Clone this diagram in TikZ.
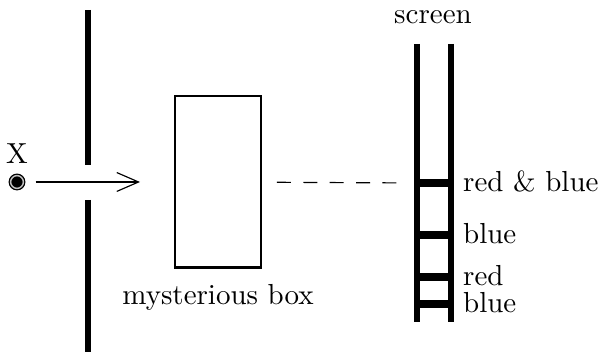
\documentclass[tikz,border=0pt]{standalone}
\usepackage{tikz}
\usetikzlibrary{arrows.meta,positioning}
\tikzset{
    %Define standard arrow tip
    >={Straight Barb[length=7.5pt,width=6.5pt]},
    %Define style for walls and screen
    wall/.style={line width=1.8pt},
    hit/.style={line width=2.8pt},
    %Define style for boxes
    mbox/.style={
           rectangle,
           draw=black, line width=1pt,
           minimum width=29.7pt,
           minimum height=59.3pt},
    source/.style={
           circle,
           fill=black,
           draw=black, line width=0.45pt,
           double=gray!50, double distance=0.5pt,
           inner sep=0pt,
           minimum size=4.4pt},
    tag/.style={anchor=west, inner sep=0pt},
    % Define arrow style
    pil/.style={
           ->,
           thin,
           shorten <=4pt}
}
\begin{document}
\begin{tikzpicture}[x=0.345pt,y=-0.345pt]
\useasboundingbox (0,0) rectangle (600,354);
 %nodes
\node[source](src) at (17,182){};
\node[above=3.6pt of src, inner sep=0pt](x){X};
\coordinate (aim) at (140,182);
\node[mbox](box) at (218,182){};
\node[below=1.8pt of box](boxtag){mysterious box};
 %wall with slit
\coordinate (w1) at (88,10);
\coordinate (w2) at (88,165);
\coordinate (w3) at (88,200);
\coordinate (w4) at (88,352);
\draw[wall] (w1) -- (w2);
\draw[wall] (w3) -- (w4);
 %screen
\coordinate (sl top) at (417,44);
\coordinate (sl bot) at (417,322);
\coordinate (sr top) at (451,44);
\coordinate (sr bot) at (451,322);
\node(screen) at (433,17){screen};
\draw[wall] (sl top) -- (sl bot);
\draw[wall] (sr top) -- (sr bot);
\foreach \y/\txt/\n in {183/red \& blue/1, 235/blue/2, 277/red/3, 304/blue/4}{
  \coordinate (a\n) at (417,\y);
  \coordinate (b\n) at (451,\y);
  \draw[hit] (a\n) -- (b\n);
  \node[tag, right=4pt of b\n, yshift=0.5pt](t\n){\txt};
}
 %paths
\draw[pil] (src) -- (aim);
\draw[dashed, dash pattern=on 4.8pt off 4.3pt, shorten <=5pt, shorten >=5.9pt] (box) -- (a1);
\end{tikzpicture}
\end{document}
